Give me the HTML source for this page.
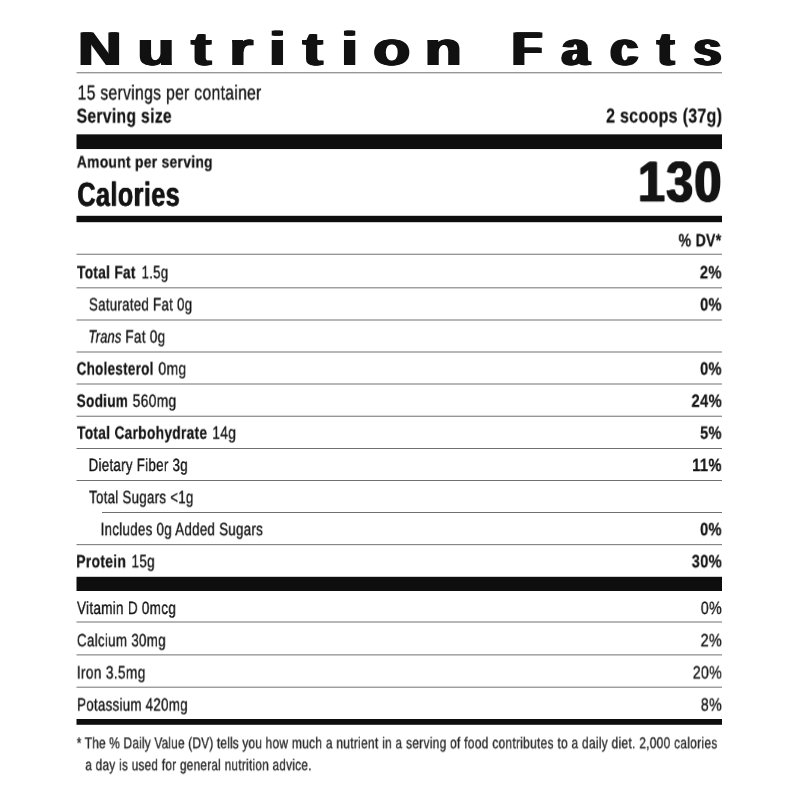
<!DOCTYPE html>
<html lang="en"><head><meta charset="utf-8"><title>Nutrition Facts</title>
<style>
html,body{margin:0;padding:0;background:#fff;}
body{width:800px;height:800px;position:relative;overflow:hidden;font-family:"Liberation Sans",sans-serif;color:#141414;text-rendering:geometricPrecision;}
.t{position:absolute;white-space:nowrap;line-height:1;transform-origin:0 0;will-change:transform;-webkit-text-stroke:0.35px #141414;}
.t b{-webkit-text-stroke:0.25px #141414;}
svg{position:absolute;left:0;top:0;}
</style></head><body>
<svg width="800" height="800" viewBox="0 0 800 800">
<rect x="76.5" y="72.38" width="645.50" height="0.85" fill="#585858"/>
<rect x="76.5" y="253.77" width="645.50" height="0.85" fill="#585858"/>
<rect x="76.5" y="287.43" width="645.50" height="0.85" fill="#585858"/>
<rect x="76.5" y="319.57" width="645.50" height="0.85" fill="#585858"/>
<rect x="76.5" y="351.57" width="645.50" height="0.85" fill="#585858"/>
<rect x="76.5" y="383.57" width="645.50" height="0.85" fill="#585858"/>
<rect x="76.5" y="415.77" width="645.50" height="0.85" fill="#585858"/>
<rect x="76.5" y="448.07" width="645.50" height="0.85" fill="#585858"/>
<rect x="76.5" y="480.07" width="645.50" height="0.85" fill="#585858"/>
<rect x="102.0" y="512.08" width="620.00" height="0.85" fill="#585858"/>
<rect x="76.5" y="544.28" width="645.50" height="0.85" fill="#585858"/>
<rect x="76.5" y="621.58" width="645.50" height="0.85" fill="#585858"/>
<rect x="76.5" y="654.48" width="645.50" height="0.85" fill="#585858"/>
<rect x="76.5" y="686.73" width="645.50" height="0.85" fill="#585858"/>
<rect x="76.5" y="134.35" width="645.50" height="14.70" fill="#0e0e0e"/>
<rect x="76.5" y="215.8" width="645.50" height="6.40" fill="#0e0e0e"/>
<rect x="76.5" y="576.8" width="645.50" height="14.20" fill="#0e0e0e"/>
<rect x="76.5" y="719.0" width="645.50" height="5.80" fill="#0e0e0e"/>
</svg>
<svg class="ttl" width="800" height="80" viewBox="0 0 800 80" style="position:absolute;left:0;top:0;overflow:visible;filter:drop-shadow(2px 0 0 #111) drop-shadow(-1px 0 0 #111)"><text transform="scale(1.279 1)" x="60.55 107.21 149.09 179.10 210.01 236.37 266.50 291.52 331.72" y="65.0" font-family="Liberation Sans, sans-serif" font-weight="bold" font-size="47.3" fill="#111">Nutrition</text></svg>
<svg class="ttl" width="800" height="80" viewBox="0 0 800 80" style="position:absolute;left:0;top:0;overflow:visible;filter:drop-shadow(2px 0 0 #111) drop-shadow(-2px 0 0 #111)"><text transform="scale(1.045 1)" x="490.07 537.64 584.31 629.22 663.79" y="65.0" font-family="Liberation Sans, sans-serif" font-weight="bold" font-size="47.3" fill="#111">Facts</text></svg>
<div class="t" style="left:77px;top:83px;font-size:20.36px;letter-spacing:0.02em;transform:translate(0.59px,0.50px) scaleX(0.7709)">15 servings per container</div>
<div class="t" style="left:76px;top:106px;font-size:20.07px;letter-spacing:0.02em;transform:translate(0.61px,0.60px) scaleX(0.7822)"><b>Serving size</b></div>
<div class="t" style="left:606px;top:106px;font-size:20.07px;letter-spacing:0.02em;transform:translate(0.10px,0.50px) scaleX(0.7955)"><b>2 scoops (37g)</b></div>
<div class="t" style="left:76px;top:154px;font-size:16.58px;letter-spacing:0.02em;transform:translate(0.79px,0.50px) scaleX(0.8370)"><b>Amount per serving</b></div>
<div class="t" style="left:77px;top:178px;font-size:33.45px;letter-spacing:0.02em;text-shadow:0.53px 0 0 #141414,-0.53px 0 0 #141414;transform:translate(0.46px,0.80px) scaleX(0.7482)"><b>Calories</b></div>
<div class="t" style="left:638px;top:154px;font-size:57.16px;letter-spacing:1.6px;text-shadow:1.18px 0 0 #141414,-1.18px 0 0 #141414,0.59px 0 0 #141414,-0.59px 0 0 #141414;transform:translate(0.05px,0.30px) scaleX(0.8442)"><b>130</b></div>
<div class="t" style="left:678px;top:232px;font-size:17.75px;letter-spacing:0.02em;transform:translate(0.55px,0.30px) scaleX(0.7944)"><b>% DV*</b></div>
<div class="t" style="left:77px;top:264px;font-size:17.75px;letter-spacing:0.02em;transform:translate(0.00px,0.30px) scaleX(0.7748)"><b>Total Fat</b></div>
<div class="t" style="left:141px;top:264px;font-size:17.75px;letter-spacing:0.02em;transform:translate(0.57px,0.30px) scaleX(0.7463)">1.5g</div>
<div class="t" style="left:699px;top:264px;font-size:17.75px;letter-spacing:0.02em;transform:translate(0.83px,0.30px) scaleX(0.8317)"><b>2%</b></div>
<div class="t" style="left:88px;top:296px;font-size:17.75px;letter-spacing:0.02em;transform:translate(0.94px,0.40px) scaleX(0.7495)">Saturated Fat 0g</div>
<div class="t" style="left:700px;top:296px;font-size:17.75px;letter-spacing:0.02em;transform:translate(0.09px,0.40px) scaleX(0.8218)"><b>0%</b></div>
<div class="t" style="left:88px;top:328px;font-size:17.75px;letter-spacing:0.02em;transform:translate(0.41px,0.60px) scaleX(0.7257)"><i>Trans</i></div>
<div class="t" style="left:125px;top:328px;font-size:17.75px;letter-spacing:0.02em;transform:translate(0.29px,0.60px) scaleX(0.7650)">Fat 0g</div>
<div class="t" style="left:76px;top:360px;font-size:17.75px;letter-spacing:0.02em;transform:translate(0.62px,0.60px) scaleX(0.7588)"><b>Cholesterol</b></div>
<div class="t" style="left:158px;top:360px;font-size:17.75px;letter-spacing:0.02em;transform:translate(0.35px,0.60px) scaleX(0.7926)">0mg</div>
<div class="t" style="left:700px;top:360px;font-size:17.75px;letter-spacing:0.02em;transform:translate(0.09px,0.60px) scaleX(0.8218)"><b>0%</b></div>
<div class="t" style="left:76px;top:392px;font-size:17.75px;letter-spacing:0.02em;transform:translate(0.62px,0.80px) scaleX(0.7663)"><b>Sodium</b></div>
<div class="t" style="left:132px;top:392px;font-size:17.75px;letter-spacing:0.02em;transform:translate(0.61px,0.80px) scaleX(0.7834)">560mg</div>
<div class="t" style="left:691px;top:392px;font-size:17.75px;letter-spacing:0.02em;transform:translate(0.48px,0.80px) scaleX(0.8326)"><b>24%</b></div>
<div class="t" style="left:77px;top:424px;font-size:17.75px;letter-spacing:0.02em;transform:translate(0.00px,0.70px) scaleX(0.7769)"><b>Total Carbohydrate</b></div>
<div class="t" style="left:212px;top:424px;font-size:17.75px;letter-spacing:0.02em;transform:translate(0.28px,0.70px) scaleX(0.7768)">14g</div>
<div class="t" style="left:700px;top:424px;font-size:17.75px;letter-spacing:0.02em;transform:translate(0.09px,0.70px) scaleX(0.8218)"><b>5%</b></div>
<div class="t" style="left:88px;top:457px;font-size:17.75px;letter-spacing:0.02em;transform:translate(0.56px,0.00px) scaleX(0.7529)">Dietary Fiber 3g</div>
<div class="t" style="left:692px;top:457px;font-size:17.75px;letter-spacing:0.02em;transform:translate(0.17px,0.00px) scaleX(0.8309)"><b>11%</b></div>
<div class="t" style="left:89px;top:489px;font-size:17.75px;letter-spacing:0.02em;transform:translate(0.06px,0.20px) scaleX(0.7495)">Total Sugars &lt;1g</div>
<div class="t" style="left:100px;top:521px;font-size:17.75px;letter-spacing:0.02em;transform:translate(0.62px,0.20px) scaleX(0.7529)">Includes 0g Added Sugars</div>
<div class="t" style="left:700px;top:521px;font-size:17.75px;letter-spacing:0.02em;transform:translate(0.09px,0.20px) scaleX(0.8218)"><b>0%</b></div>
<div class="t" style="left:76px;top:553px;font-size:17.75px;letter-spacing:0.02em;transform:translate(0.22px,0.30px) scaleX(0.7837)"><b>Protein</b></div>
<div class="t" style="left:131px;top:553px;font-size:17.75px;letter-spacing:0.02em;transform:translate(0.55px,0.30px) scaleX(0.7589)">15g</div>
<div class="t" style="left:691px;top:553px;font-size:17.75px;letter-spacing:0.02em;transform:translate(0.69px,0.30px) scaleX(0.8268)"><b>30%</b></div>
<div class="t" style="left:77px;top:600px;font-size:17.75px;letter-spacing:0.02em;transform:translate(0.00px,0.00px) scaleX(0.7626)">Vitamin D 0mcg</div>
<div class="t" style="left:700px;top:600px;font-size:17.75px;letter-spacing:0.02em;transform:translate(0.85px,0.00px) scaleX(0.8000)">0%</div>
<div class="t" style="left:76px;top:632px;font-size:17.75px;letter-spacing:0.02em;transform:translate(0.93px,0.30px) scaleX(0.7559)">Calcium 30mg</div>
<div class="t" style="left:700px;top:632px;font-size:17.75px;letter-spacing:0.02em;transform:translate(0.64px,0.30px) scaleX(0.8081)">2%</div>
<div class="t" style="left:76px;top:664px;font-size:17.75px;letter-spacing:0.02em;transform:translate(0.83px,0.50px) scaleX(0.7778)">Iron 3.5mg</div>
<div class="t" style="left:692px;top:664px;font-size:17.75px;letter-spacing:0.02em;transform:translate(0.80px,0.50px) scaleX(0.7957)">20%</div>
<div class="t" style="left:77px;top:696px;font-size:17.75px;letter-spacing:0.02em;transform:translate(0.06px,0.60px) scaleX(0.7513)">Potassium 420mg</div>
<div class="t" style="left:700px;top:696px;font-size:17.75px;letter-spacing:0.02em;transform:translate(0.85px,0.60px) scaleX(0.8000)">8%</div>
<div class="t" style="left:76px;top:736px;font-size:15.71px;letter-spacing:0.38px;color:#2a2a2a;-webkit-text-stroke:0.35px #2a2a2a;transform:translate(0.73px,0.30px) scaleX(0.7597)"><span style="letter-spacing:0.21px">* The % Daily Value (DV) tells you </span>how much a nutrient in a serving of food contributes to a daily diet. 2,000 calories</div>
<div class="t" style="left:85px;top:758px;font-size:15.71px;letter-spacing:0.38px;color:#2a2a2a;-webkit-text-stroke:0.35px #2a2a2a;transform:translate(0.33px,0.20px) scaleX(0.7481)">a day is used for general nutrition advice.</div>
</body></html>
